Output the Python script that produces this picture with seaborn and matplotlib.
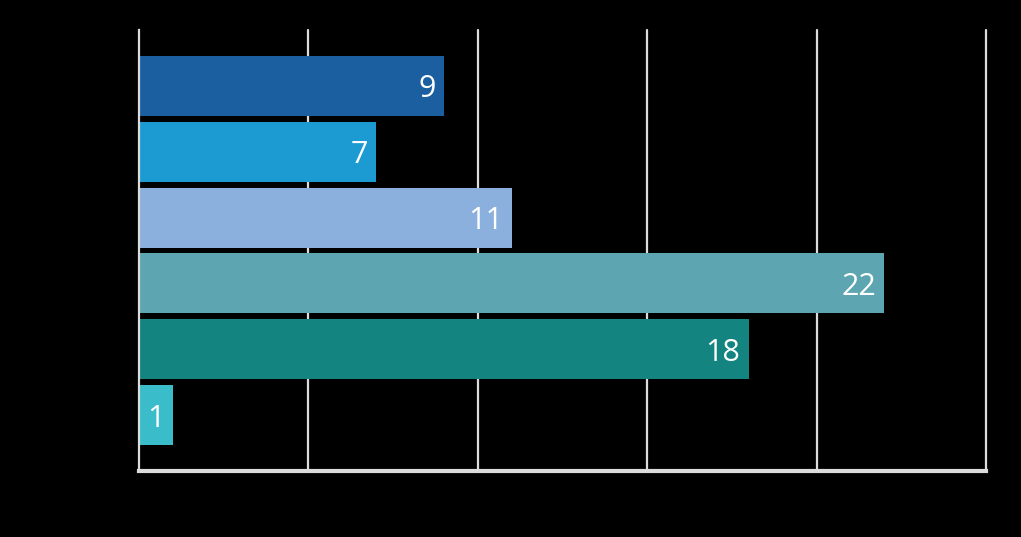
import matplotlib
matplotlib.use("Agg")
import matplotlib.pyplot as plt
import seaborn as sns
import pandas as pd

# chart data
categories = ["A", "B", "C", "D", "E", "F"]
values = [9, 7, 11, 22, 18, 1]
colors = ["#1c5fa0", "#1c9ad2", "#8bb0de", "#5da5b0", "#138480", "#3bbccb"]

df = pd.DataFrame({"category": categories, "value": values})

sns.set_style("white")
plt.rcParams["font.family"] = ["Open Sans", "DejaVu Sans"]

fig = plt.figure(figsize=(10.21, 5.37), dpi=100, facecolor="black")
ax = fig.add_axes([139 / 1021, 1 - 471 / 537, 847 / 1021, 441 / 537])
ax.set_facecolor("black")

sns.barplot(data=df, x="value", y="category", hue="category", palette=colors,
            legend=False, width=0.91, saturation=1, linewidth=0, ax=ax)

# gridlines behind bars
for x in [5, 10, 15, 20, 25]:
    ax.axvline(x, color="#dcdcdc", lw=1.6, zorder=0, clip_on=False)
ax.set_xlim(0, 25)
ax.set_ylim(5.85, -0.85)

for s in ["top", "right"]:
    ax.spines[s].set_visible(False)
ax.spines["left"].set_color("#dcdcdc")
ax.spines["left"].set_linewidth(1.6)
ax.spines["bottom"].set_color("#dcdcdc")
ax.spines["bottom"].set_linewidth(3)

ax.set_xticks([])
ax.set_yticks([])
ax.set_xlabel("")
ax.set_ylabel("")

# value labels inside bar ends
for i, v in enumerate(values):
    ax.annotate(str(v), xy=(v, i), xytext=(-6, 0), textcoords="offset points",
                ha="right", va="center_baseline", color="white", fontsize=22)

fig.savefig("out.png", dpi=100, facecolor="black")
